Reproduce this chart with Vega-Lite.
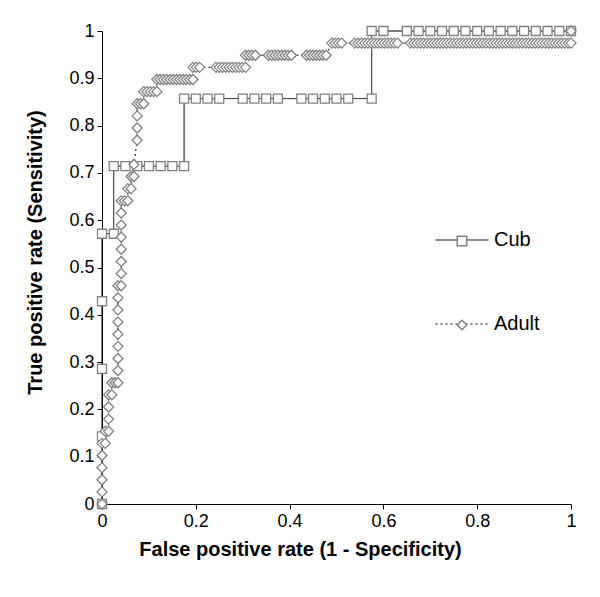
{
  "$schema": "https://vega.github.io/schema/vega-lite/v6.json",
  "width": 469,
  "height": 473,
  "autosize": {"type": "none"},
  "padding": {"left": 102, "top": 31, "right": 29, "bottom": 93},
  "background": "white",
  "config": {
    "view": {"stroke": null},
    "font": "Liberation Sans",
    "axis": {
      "domainColor": "black", "tickColor": "black", "labelColor": "black", "titleColor": "black",
      "grid": false, "tickSize": 5, "labelFontSize": 18, "titleFontSize": 20, "titleFontWeight": "bold",
      "labelFont": "Liberation Sans", "titleFont": "Liberation Sans", "domainWidth": 1, "tickWidth": 1
    }
  },
  "data": {
    "values": [
      {"group": "Cub", "fpr": 0, "tpr": 0},
      {"group": "Cub", "fpr": 0, "tpr": 0.1429},
      {"group": "Cub", "fpr": 0, "tpr": 0.2857},
      {"group": "Cub", "fpr": 0, "tpr": 0.4286},
      {"group": "Cub", "fpr": 0, "tpr": 0.5714},
      {"group": "Cub", "fpr": 0.025, "tpr": 0.5714},
      {"group": "Cub", "fpr": 0.025, "tpr": 0.7143},
      {"group": "Cub", "fpr": 0.05, "tpr": 0.7143},
      {"group": "Cub", "fpr": 0.075, "tpr": 0.7143},
      {"group": "Cub", "fpr": 0.1, "tpr": 0.7143},
      {"group": "Cub", "fpr": 0.125, "tpr": 0.7143},
      {"group": "Cub", "fpr": 0.15, "tpr": 0.7143},
      {"group": "Cub", "fpr": 0.175, "tpr": 0.7143},
      {"group": "Cub", "fpr": 0.175, "tpr": 0.8571},
      {"group": "Cub", "fpr": 0.2, "tpr": 0.8571},
      {"group": "Cub", "fpr": 0.225, "tpr": 0.8571},
      {"group": "Cub", "fpr": 0.25, "tpr": 0.8571},
      {"group": "Cub", "fpr": 0.3, "tpr": 0.8571},
      {"group": "Cub", "fpr": 0.325, "tpr": 0.8571},
      {"group": "Cub", "fpr": 0.35, "tpr": 0.8571},
      {"group": "Cub", "fpr": 0.375, "tpr": 0.8571},
      {"group": "Cub", "fpr": 0.425, "tpr": 0.8571},
      {"group": "Cub", "fpr": 0.45, "tpr": 0.8571},
      {"group": "Cub", "fpr": 0.475, "tpr": 0.8571},
      {"group": "Cub", "fpr": 0.5, "tpr": 0.8571},
      {"group": "Cub", "fpr": 0.525, "tpr": 0.8571},
      {"group": "Cub", "fpr": 0.575, "tpr": 0.8571},
      {"group": "Cub", "fpr": 0.575, "tpr": 1},
      {"group": "Cub", "fpr": 0.6, "tpr": 1},
      {"group": "Cub", "fpr": 0.65, "tpr": 1},
      {"group": "Cub", "fpr": 0.675, "tpr": 1},
      {"group": "Cub", "fpr": 0.7, "tpr": 1},
      {"group": "Cub", "fpr": 0.725, "tpr": 1},
      {"group": "Cub", "fpr": 0.75, "tpr": 1},
      {"group": "Cub", "fpr": 0.775, "tpr": 1},
      {"group": "Cub", "fpr": 0.8, "tpr": 1},
      {"group": "Cub", "fpr": 0.825, "tpr": 1},
      {"group": "Cub", "fpr": 0.85, "tpr": 1},
      {"group": "Cub", "fpr": 0.875, "tpr": 1},
      {"group": "Cub", "fpr": 0.9, "tpr": 1},
      {"group": "Cub", "fpr": 0.925, "tpr": 1},
      {"group": "Cub", "fpr": 0.95, "tpr": 1},
      {"group": "Cub", "fpr": 0.975, "tpr": 1},
      {"group": "Cub", "fpr": 1, "tpr": 1},
      {"group": "Adult", "fpr": 0, "tpr": 0},
      {"group": "Adult", "fpr": 0, "tpr": 0.0256},
      {"group": "Adult", "fpr": 0, "tpr": 0.0513},
      {"group": "Adult", "fpr": 0, "tpr": 0.0769},
      {"group": "Adult", "fpr": 0, "tpr": 0.1026},
      {"group": "Adult", "fpr": 0, "tpr": 0.1282},
      {"group": "Adult", "fpr": 0.007, "tpr": 0.1282},
      {"group": "Adult", "fpr": 0.007, "tpr": 0.1538},
      {"group": "Adult", "fpr": 0.014, "tpr": 0.1538},
      {"group": "Adult", "fpr": 0.014, "tpr": 0.1795},
      {"group": "Adult", "fpr": 0.014, "tpr": 0.2051},
      {"group": "Adult", "fpr": 0.014, "tpr": 0.2308},
      {"group": "Adult", "fpr": 0.021, "tpr": 0.2308},
      {"group": "Adult", "fpr": 0.021, "tpr": 0.2564},
      {"group": "Adult", "fpr": 0.028, "tpr": 0.2564},
      {"group": "Adult", "fpr": 0.034, "tpr": 0.2564},
      {"group": "Adult", "fpr": 0.034, "tpr": 0.2821},
      {"group": "Adult", "fpr": 0.034, "tpr": 0.3077},
      {"group": "Adult", "fpr": 0.034, "tpr": 0.3333},
      {"group": "Adult", "fpr": 0.034, "tpr": 0.359},
      {"group": "Adult", "fpr": 0.034, "tpr": 0.3846},
      {"group": "Adult", "fpr": 0.034, "tpr": 0.4103},
      {"group": "Adult", "fpr": 0.034, "tpr": 0.4359},
      {"group": "Adult", "fpr": 0.034, "tpr": 0.4615},
      {"group": "Adult", "fpr": 0.041, "tpr": 0.4615},
      {"group": "Adult", "fpr": 0.041, "tpr": 0.4872},
      {"group": "Adult", "fpr": 0.041, "tpr": 0.5128},
      {"group": "Adult", "fpr": 0.041, "tpr": 0.5385},
      {"group": "Adult", "fpr": 0.041, "tpr": 0.5641},
      {"group": "Adult", "fpr": 0.041, "tpr": 0.5897},
      {"group": "Adult", "fpr": 0.041, "tpr": 0.6154},
      {"group": "Adult", "fpr": 0.041, "tpr": 0.641},
      {"group": "Adult", "fpr": 0.048, "tpr": 0.641},
      {"group": "Adult", "fpr": 0.055, "tpr": 0.641},
      {"group": "Adult", "fpr": 0.055, "tpr": 0.6667},
      {"group": "Adult", "fpr": 0.062, "tpr": 0.6667},
      {"group": "Adult", "fpr": 0.062, "tpr": 0.6923},
      {"group": "Adult", "fpr": 0.068, "tpr": 0.6923},
      {"group": "Adult", "fpr": 0.068, "tpr": 0.7179},
      {"group": "Adult", "fpr": 0.075, "tpr": 0.7692},
      {"group": "Adult", "fpr": 0.075, "tpr": 0.7949},
      {"group": "Adult", "fpr": 0.075, "tpr": 0.8205},
      {"group": "Adult", "fpr": 0.075, "tpr": 0.8462},
      {"group": "Adult", "fpr": 0.082, "tpr": 0.8462},
      {"group": "Adult", "fpr": 0.089, "tpr": 0.8462},
      {"group": "Adult", "fpr": 0.089, "tpr": 0.8718},
      {"group": "Adult", "fpr": 0.096, "tpr": 0.8718},
      {"group": "Adult", "fpr": 0.103, "tpr": 0.8718},
      {"group": "Adult", "fpr": 0.11, "tpr": 0.8718},
      {"group": "Adult", "fpr": 0.117, "tpr": 0.8718},
      {"group": "Adult", "fpr": 0.117, "tpr": 0.8974},
      {"group": "Adult", "fpr": 0.124, "tpr": 0.8974},
      {"group": "Adult", "fpr": 0.131, "tpr": 0.8974},
      {"group": "Adult", "fpr": 0.138, "tpr": 0.8974},
      {"group": "Adult", "fpr": 0.145, "tpr": 0.8974},
      {"group": "Adult", "fpr": 0.152, "tpr": 0.8974},
      {"group": "Adult", "fpr": 0.159, "tpr": 0.8974},
      {"group": "Adult", "fpr": 0.166, "tpr": 0.8974},
      {"group": "Adult", "fpr": 0.173, "tpr": 0.8974},
      {"group": "Adult", "fpr": 0.18, "tpr": 0.8974},
      {"group": "Adult", "fpr": 0.187, "tpr": 0.8974},
      {"group": "Adult", "fpr": 0.194, "tpr": 0.8974},
      {"group": "Adult", "fpr": 0.194, "tpr": 0.9231},
      {"group": "Adult", "fpr": 0.201, "tpr": 0.9231},
      {"group": "Adult", "fpr": 0.208, "tpr": 0.9231},
      {"group": "Adult", "fpr": 0.243, "tpr": 0.9231},
      {"group": "Adult", "fpr": 0.25, "tpr": 0.9231},
      {"group": "Adult", "fpr": 0.257, "tpr": 0.9231},
      {"group": "Adult", "fpr": 0.264, "tpr": 0.9231},
      {"group": "Adult", "fpr": 0.271, "tpr": 0.9231},
      {"group": "Adult", "fpr": 0.278, "tpr": 0.9231},
      {"group": "Adult", "fpr": 0.285, "tpr": 0.9231},
      {"group": "Adult", "fpr": 0.292, "tpr": 0.9231},
      {"group": "Adult", "fpr": 0.299, "tpr": 0.9231},
      {"group": "Adult", "fpr": 0.306, "tpr": 0.9231},
      {"group": "Adult", "fpr": 0.306, "tpr": 0.9487},
      {"group": "Adult", "fpr": 0.313, "tpr": 0.9487},
      {"group": "Adult", "fpr": 0.32, "tpr": 0.9487},
      {"group": "Adult", "fpr": 0.327, "tpr": 0.9487},
      {"group": "Adult", "fpr": 0.355, "tpr": 0.9487},
      {"group": "Adult", "fpr": 0.362, "tpr": 0.9487},
      {"group": "Adult", "fpr": 0.369, "tpr": 0.9487},
      {"group": "Adult", "fpr": 0.376, "tpr": 0.9487},
      {"group": "Adult", "fpr": 0.383, "tpr": 0.9487},
      {"group": "Adult", "fpr": 0.39, "tpr": 0.9487},
      {"group": "Adult", "fpr": 0.397, "tpr": 0.9487},
      {"group": "Adult", "fpr": 0.404, "tpr": 0.9487},
      {"group": "Adult", "fpr": 0.436, "tpr": 0.9487},
      {"group": "Adult", "fpr": 0.443, "tpr": 0.9487},
      {"group": "Adult", "fpr": 0.45, "tpr": 0.9487},
      {"group": "Adult", "fpr": 0.457, "tpr": 0.9487},
      {"group": "Adult", "fpr": 0.464, "tpr": 0.9487},
      {"group": "Adult", "fpr": 0.471, "tpr": 0.9487},
      {"group": "Adult", "fpr": 0.478, "tpr": 0.9487},
      {"group": "Adult", "fpr": 0.49, "tpr": 0.9744},
      {"group": "Adult", "fpr": 0.497, "tpr": 0.9744},
      {"group": "Adult", "fpr": 0.504, "tpr": 0.9744},
      {"group": "Adult", "fpr": 0.511, "tpr": 0.9744},
      {"group": "Adult", "fpr": 0.539, "tpr": 0.9744},
      {"group": "Adult", "fpr": 0.546, "tpr": 0.9744},
      {"group": "Adult", "fpr": 0.553, "tpr": 0.9744},
      {"group": "Adult", "fpr": 0.56, "tpr": 0.9744},
      {"group": "Adult", "fpr": 0.567, "tpr": 0.9744},
      {"group": "Adult", "fpr": 0.574, "tpr": 0.9744},
      {"group": "Adult", "fpr": 0.581, "tpr": 0.9744},
      {"group": "Adult", "fpr": 0.588, "tpr": 0.9744},
      {"group": "Adult", "fpr": 0.595, "tpr": 0.9744},
      {"group": "Adult", "fpr": 0.602, "tpr": 0.9744},
      {"group": "Adult", "fpr": 0.609, "tpr": 0.9744},
      {"group": "Adult", "fpr": 0.616, "tpr": 0.9744},
      {"group": "Adult", "fpr": 0.623, "tpr": 0.9744},
      {"group": "Adult", "fpr": 0.63, "tpr": 0.9744},
      {"group": "Adult", "fpr": 0.658, "tpr": 0.9744},
      {"group": "Adult", "fpr": 0.665, "tpr": 0.9744},
      {"group": "Adult", "fpr": 0.672, "tpr": 0.9744},
      {"group": "Adult", "fpr": 0.679, "tpr": 0.9744},
      {"group": "Adult", "fpr": 0.686, "tpr": 0.9744},
      {"group": "Adult", "fpr": 0.693, "tpr": 0.9744},
      {"group": "Adult", "fpr": 0.7, "tpr": 0.9744},
      {"group": "Adult", "fpr": 0.707, "tpr": 0.9744},
      {"group": "Adult", "fpr": 0.714, "tpr": 0.9744},
      {"group": "Adult", "fpr": 0.721, "tpr": 0.9744},
      {"group": "Adult", "fpr": 0.728, "tpr": 0.9744},
      {"group": "Adult", "fpr": 0.735, "tpr": 0.9744},
      {"group": "Adult", "fpr": 0.742, "tpr": 0.9744},
      {"group": "Adult", "fpr": 0.749, "tpr": 0.9744},
      {"group": "Adult", "fpr": 0.756, "tpr": 0.9744},
      {"group": "Adult", "fpr": 0.763, "tpr": 0.9744},
      {"group": "Adult", "fpr": 0.77, "tpr": 0.9744},
      {"group": "Adult", "fpr": 0.777, "tpr": 0.9744},
      {"group": "Adult", "fpr": 0.784, "tpr": 0.9744},
      {"group": "Adult", "fpr": 0.791, "tpr": 0.9744},
      {"group": "Adult", "fpr": 0.798, "tpr": 0.9744},
      {"group": "Adult", "fpr": 0.805, "tpr": 0.9744},
      {"group": "Adult", "fpr": 0.812, "tpr": 0.9744},
      {"group": "Adult", "fpr": 0.819, "tpr": 0.9744},
      {"group": "Adult", "fpr": 0.826, "tpr": 0.9744},
      {"group": "Adult", "fpr": 0.833, "tpr": 0.9744},
      {"group": "Adult", "fpr": 0.84, "tpr": 0.9744},
      {"group": "Adult", "fpr": 0.847, "tpr": 0.9744},
      {"group": "Adult", "fpr": 0.854, "tpr": 0.9744},
      {"group": "Adult", "fpr": 0.861, "tpr": 0.9744},
      {"group": "Adult", "fpr": 0.868, "tpr": 0.9744},
      {"group": "Adult", "fpr": 0.875, "tpr": 0.9744},
      {"group": "Adult", "fpr": 0.882, "tpr": 0.9744},
      {"group": "Adult", "fpr": 0.889, "tpr": 0.9744},
      {"group": "Adult", "fpr": 0.896, "tpr": 0.9744},
      {"group": "Adult", "fpr": 0.903, "tpr": 0.9744},
      {"group": "Adult", "fpr": 0.91, "tpr": 0.9744},
      {"group": "Adult", "fpr": 0.917, "tpr": 0.9744},
      {"group": "Adult", "fpr": 0.924, "tpr": 0.9744},
      {"group": "Adult", "fpr": 0.931, "tpr": 0.9744},
      {"group": "Adult", "fpr": 0.938, "tpr": 0.9744},
      {"group": "Adult", "fpr": 0.945, "tpr": 0.9744},
      {"group": "Adult", "fpr": 0.952, "tpr": 0.9744},
      {"group": "Adult", "fpr": 0.959, "tpr": 0.9744},
      {"group": "Adult", "fpr": 0.966, "tpr": 0.9744},
      {"group": "Adult", "fpr": 0.973, "tpr": 0.9744},
      {"group": "Adult", "fpr": 0.98, "tpr": 0.9744},
      {"group": "Adult", "fpr": 0.987, "tpr": 0.9744},
      {"group": "Adult", "fpr": 0.994, "tpr": 0.9744},
      {"group": "Adult", "fpr": 1, "tpr": 0.9744},
      {"group": "Adult", "fpr": 1, "tpr": 1}
    ]
  },
  "encoding": {
    "x": {
      "field": "fpr", "type": "quantitative",
      "scale": {"domain": [0, 1], "nice": false, "zero": false},
      "axis": {"values": [0, 0.2, 0.4, 0.6, 0.8, 1], "format": ".1~f", "labelPadding": 3, "labelFlush": false,
               "title": "False positive rate (1 - Specificity)", "titleX": 198, "titleY": 35, "titleBaseline": "top"}
    },
    "y": {
      "field": "tpr", "type": "quantitative",
      "scale": {"domain": [0, 1], "nice": false, "zero": false},
      "axis": {"values": [0, 0.1, 0.2, 0.3, 0.4, 0.5, 0.6, 0.7, 0.8, 0.9, 1], "format": ".1~f", "labelPadding": 3,
               "labelFlush": false, "title": "True positive rate (Sensitivity)", "titleX": -67, "titleY": 221, "titleBaseline": "middle"}
    }
  },
  "resolve": {"legend": {"shape": "independent", "strokeDash": "independent"}},
  "layer": [
    {
      "mark": {"type": "line", "color": "black", "strokeWidth": 1, "clip": false},
      "encoding": {
        "strokeDash": {
          "field": "group", "type": "nominal",
          "scale": {"domain": ["Cub", "Adult"], "range": [[1, 0], [2, 3]]},
          "legend": {
            "orient": "none", "legendX": 333, "legendY": 182, "title": null, "padding": 0,
            "symbolType": "stroke", "symbolSize": 2809, "symbolStrokeColor": "black", "symbolStrokeWidth": 1,
            "labelFontSize": 20, "labelFont": "Liberation Sans", "labelColor": "black", "labelOffset": 5,
            "rowPadding": 47
          }
        },
        "order": {"value": null}
      }
    },
    {
      "mark": {"type": "point", "filled": true, "fill": "white", "stroke": "#808080", "strokeWidth": 1.3, "opacity": 1, "clip": false},
      "encoding": {
        "shape": {
          "field": "group", "type": "nominal",
          "scale": {"domain": ["Cub", "Adult"], "range": ["square", "diamond"]},
          "legend": {
            "orient": "none", "legendX": 350, "legendY": 200, "title": null, "padding": 0,
            "symbolSize": 90, "symbolOpacity": 1, "labelFontSize": 20, "labelExpr": "''", "rowPadding": 64,
            "encoding": {
              "symbols": {
                "update": {
                  "fill": {"value": "white"},
                  "stroke": {"value": "#808080"},
                  "strokeWidth": {"value": 1.3},
                  "strokeOpacity": {"value": 1},
                  "fillOpacity": {"value": 1}
                }
              }
            }
          }
        },
        "size": {
          "field": "group", "type": "nominal",
          "scale": {"domain": ["Cub", "Adult"], "range": [81, 100]},
          "legend": null
        }
      }
    }
  ]
}
